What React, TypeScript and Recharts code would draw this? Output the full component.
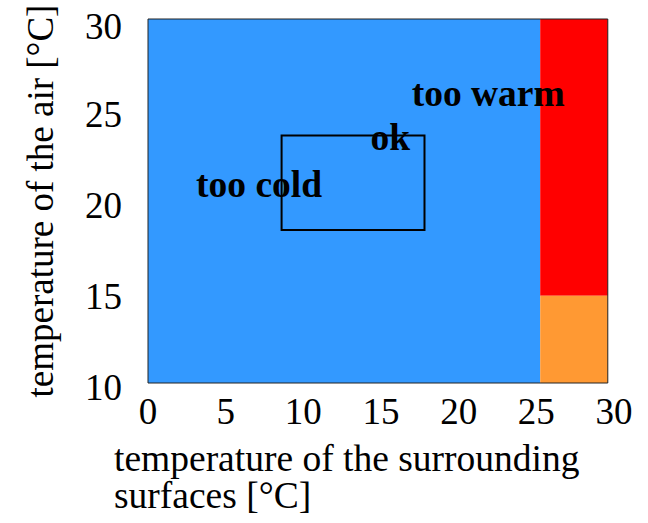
import {
  ScatterChart,
  Scatter,
  XAxis,
  YAxis,
  ReferenceArea,
  Label,
} from "recharts";

// zones of the comfort diagram (surface temp x, air temp y)
const zoneNames = ["too cold", "too warm", "too warm / cold air"];
const zoneX1 = [0, 25.25, 25.25];
const zoneX2 = [25.25, 29.6, 29.6];
const zoneY1 = [10, 14.8, 10];
const zoneY2 = [30, 30, 14.8];

// comfort box
const okX = [8.6, 17.8];
const okY = [18.4, 23.6];

// text labels inside the diagram
const labelText = ["too cold", "ok", "too warm"];
const labelX = [7.15, 15.6, 21.9];
const labelY = [20.9, 23.5, 25.9];

const xTicks = [0, 5, 10, 15, 20, 25, 30];
const yTicks = [10, 15, 20, 25, 30];

const zoneColors = ["#3399ff", "#ff0000", "#ff9933"];
const FONT = "'Liberation Serif', 'DejaVu Serif', serif";

const labelData = labelText.map((t, i) => ({ x: labelX[i], y: labelY[i], text: t }));

const LabelShape = (props: any) => {
  const { cx, cy, payload } = props;
  return (
    <text
      x={cx}
      y={cy}
      textAnchor="middle"
      dominantBaseline="central"
      fontFamily={FONT}
      fontWeight="bold"
      fontSize={37.5}
      fill="#000"
    >
      {payload.text}
    </text>
  );
};

const XTitle = (props: any) => {
  const { viewBox } = props;
  const y0 = viewBox.y;
  return (
    <text fontFamily={FONT} fontSize={37.5} fill="#000">
      <tspan x={114} y={y0 + 88}>temperature of the surrounding</tspan>
      <tspan x={114} y={y0 + 125}>surfaces [°C]</tspan>
    </text>
  );
};

export default function App() {
  return (
    <div style={{ position: "absolute", left: 0, top: 0, background: "#fff" }}>
      <ScatterChart
        width={648}
        height={523}
        margin={{ top: 19, right: 34, bottom: 0, left: 0 }}
      >
        <XAxis
          type="number"
          dataKey="x"
          domain={[0, 30]}
          ticks={xTicks}
          allowDataOverflow
          axisLine={false}
          tickLine={false}
          tickSize={0}
          tickMargin={15}
          height={140}
          tick={{ fontSize: 37, fontFamily: FONT, fill: "#000" }}
        >
          <Label content={<XTitle />} />
        </XAxis>
        <YAxis
          type="number"
          dataKey="y"
          domain={[10, 30]}
          ticks={yTicks}
          allowDataOverflow
          axisLine={false}
          tickLine={false}
          tickSize={0}
          tickMargin={26}
          width={148}
          tick={{ fontSize: 37, fontFamily: FONT, fill: "#000", dy: 4 }}
        >
          <Label
            value="temperature of the air [°C]"
            angle={-90}
            position="insideLeft"
            offset={40}
            style={{ fontSize: 37, fontFamily: FONT, fill: "#000", textAnchor: "middle" }}
          />
        </YAxis>
        {zoneNames.map((n, i) => (
          <ReferenceArea
            key={n}
            x1={zoneX1[i]}
            x2={zoneX2[i]}
            y1={zoneY1[i]}
            y2={zoneY2[i]}
            fill={zoneColors[i]}
            fillOpacity={1}
            stroke="none"
          />
        ))}
        <ReferenceArea
          x1={zoneX1[0]}
          x2={zoneX2[1]}
          y1={zoneY1[0]}
          y2={zoneY2[0]}
          fill="none"
          stroke="#222"
          strokeWidth={1}
        />
        <ReferenceArea
          x1={okX[0]}
          x2={okX[1]}
          y1={okY[0]}
          y2={okY[1]}
          fill="none"
          stroke="#000"
          strokeWidth={2}
        />
        <Scatter data={labelData} shape={<LabelShape />} isAnimationActive={false} />
      </ScatterChart>
    </div>
  );
}
